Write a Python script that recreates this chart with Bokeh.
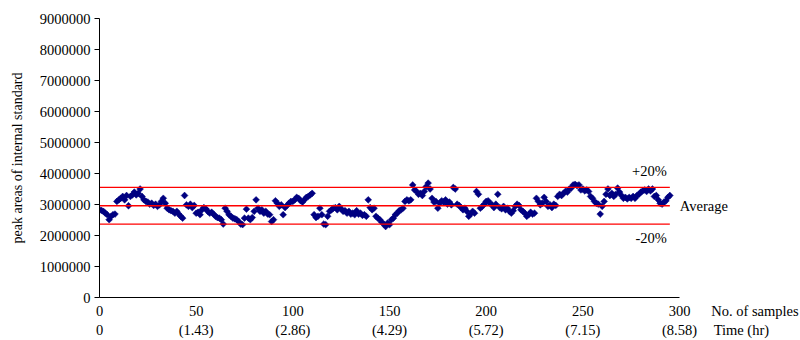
import numpy as np
from bokeh.plotting import figure
from bokeh.models import (Range1d, LinearAxis, FixedTicker, NumeralTickFormatter,
                          Label, ColumnDataSource)
from bokeh.embed import file_html
from bokeh.resources import INLINE

# ---- data ----
peak_area_millions = [
    2.83, 2.81, 2.78, 2.72, 2.67, 2.51, 2.62, 2.67, 2.69, 3.10,
    3.15, 3.20, 3.26, 3.15, 3.29, 2.96, 3.26, 3.31, 3.40, 3.31,
    3.36, 3.50, 3.26, 3.15, 3.10, 3.08, 3.01, 3.04, 2.97, 3.01,
    2.94, 2.99, 3.10, 3.20, 3.04, 2.88, 2.83, 2.80, 2.78, 2.72,
    2.78, 2.69, 2.62, 2.56, 3.29, 2.99, 2.94, 3.01, 2.90, 2.97,
    2.72, 2.75, 2.67, 2.83, 2.90, 2.86, 2.78, 2.72, 2.75, 2.69,
    2.62, 2.58, 2.56, 2.51, 2.37, 2.88, 2.78, 2.67, 2.62, 2.56,
    2.54, 2.51, 2.45, 2.37, 2.35, 2.56, 2.85, 2.56, 2.51, 2.58,
    2.78, 3.15, 2.88, 2.78, 2.83, 2.72, 2.78, 2.69, 2.67, 2.45,
    2.51, 3.12, 3.04, 2.94, 2.99, 2.67, 2.90, 2.97, 3.04, 3.10,
    3.10, 3.15, 3.23, 3.20, 3.12, 3.08, 3.15, 3.23, 3.26, 3.31,
    3.36, 2.67, 2.58, 2.62, 2.88, 2.67, 2.37, 2.35, 2.62, 2.78,
    2.83, 2.88, 2.90, 2.83, 2.94, 2.86, 2.78, 2.80, 2.72, 2.78,
    2.69, 2.72, 2.67, 2.80, 2.69, 2.72, 2.65, 2.67, 2.62, 3.15,
    2.90, 2.83, 2.88, 2.62, 2.56, 2.51, 2.43, 2.37, 2.29, 2.40,
    2.35, 2.51, 2.56, 2.67, 2.72, 2.80, 2.83, 2.88, 3.10, 3.15,
    3.12, 3.15, 3.63, 3.47, 3.42, 3.33, 3.36, 3.29, 3.42, 3.58,
    3.69, 3.50, 3.20, 3.08, 3.10, 2.88, 3.04, 3.12, 3.08, 3.15,
    3.01, 3.08, 2.99, 3.55, 3.50, 3.01, 2.97, 2.90, 2.83, 2.88,
    2.78, 2.62, 2.69, 2.78, 2.72, 3.42, 3.33, 2.88, 2.94, 3.01,
    3.10, 3.12, 3.04, 2.99, 2.90, 3.01, 3.33, 2.90, 2.86, 2.94,
    2.83, 2.88, 2.78, 2.72, 2.80, 2.94, 3.01, 2.97, 2.83, 2.78,
    2.72, 2.62, 2.67, 2.75, 2.69, 2.72, 3.20, 3.10, 2.99, 3.04,
    3.23, 3.10, 2.94, 2.99, 2.90, 3.01, 2.97, 3.26, 3.33, 3.29,
    3.36, 3.42, 3.40, 3.50, 3.53, 3.63, 3.65, 3.61, 3.63, 3.47,
    3.50, 3.44, 3.47, 3.42, 3.26, 3.20, 3.10, 3.04, 3.01, 2.69,
    2.94, 3.10, 3.33, 3.50, 3.29, 3.36, 3.26, 3.33, 3.53, 3.40,
    3.29, 3.20, 3.23, 3.18, 3.23, 3.20, 3.26, 3.20, 3.29, 3.33,
    3.40, 3.44, 3.47, 3.42, 3.50, 3.44, 3.50, 3.26, 3.29, 3.15,
    3.04, 3.01, 3.08, 3.12, 3.23, 3.29,
]
samples = list(range(len(peak_area_millions)))
peak_area = [v * 1e6 for v in peak_area_millions]

average = 2.96e6
upper_limit = average * 1.2
lower_limit = average * 0.8

y_ticks = [0, 1000000, 2000000, 3000000, 4000000, 5000000,
           6000000, 7000000, 8000000, 9000000]
x_ticks = [0, 50, 100, 150, 200, 250, 300]
time_labels = ["0", "(1.43)", "(2.86)", "(4.29)", "(5.72)", "(7.15)", "(8.58)"]
x_axis_title = "No. of samples"
time_axis_title = "Time (hr)"

# ---- layout constants ----
FONT = "Liberation Serif"
FS = "14.5px"
FRAME_LEFT, FRAME_TOP, AXIS_PX = 99, 18, 580      # 0..300 spans 580 px
X_VIEW_END = 300 * (800 - FRAME_LEFT) / AXIS_PX   # frame runs to the right edge
SAMPLES_TITLE_POS = 339                           # centre of "No. of samples"
TIME_TITLE_POS = 332                              # centre of "Time (hr)"

p = figure(width=800, height=340,
           x_range=Range1d(0, X_VIEW_END), y_range=Range1d(0, 9000000),
           output_backend="svg", toolbar_location=None,
           x_axis_type=None, y_axis_type=None,
           min_border_left=FRAME_LEFT, min_border_right=0,
           min_border_top=FRAME_TOP, min_border_bottom=42)
p.outline_line_color = None
p.background_fill_color = "white"
p.border_fill_color = "white"
for g in p.grid:
    g.visible = False

yaxis = LinearAxis(ticker=FixedTicker(ticks=y_ticks),
                   formatter=NumeralTickFormatter(format="0"))
yaxis.major_tick_out = 5
yaxis.major_tick_in = 0
yaxis.minor_tick_line_color = None
yaxis.major_label_standoff = 4
yaxis.major_label_text_font = FONT
yaxis.major_label_text_font_size = FS
yaxis.major_label_text_color = "black"
yaxis.axis_line_color = "black"
yaxis.major_tick_line_color = "black"
yaxis.axis_label = "peak areas of internal standard"
yaxis.axis_label_text_font = FONT
yaxis.axis_label_text_font_size = "14px"
yaxis.axis_label_text_font_style = "normal"
yaxis.axis_label_text_color = "black"
yaxis.axis_label_standoff = 12
p.add_layout(yaxis, "left")

# the x axis line itself, limited to 0..300
xline = LinearAxis(ticker=FixedTicker(ticks=[]), bounds=(x_ticks[0], x_ticks[-1]))
xline.major_tick_out = 0
xline.major_tick_in = 0
xline.minor_tick_line_color = None
xline.major_label_standoff = 0
xline.axis_line_color = "black"
p.add_layout(xline, "below")

def label_axis(ticks, overrides, standoff):
    ax = LinearAxis(ticker=FixedTicker(ticks=ticks),
                    major_label_overrides=overrides)
    ax.major_tick_out = 0
    ax.major_tick_in = 0
    ax.minor_tick_line_color = None
    ax.major_tick_line_color = None
    ax.axis_line_color = None
    ax.major_label_standoff = standoff
    ax.major_label_text_font = FONT
    ax.major_label_text_font_size = FS
    ax.major_label_text_color = "black"
    p.add_layout(ax, "below")
    return ax

samples_over = {t: str(t) for t in x_ticks}
samples_over[SAMPLES_TITLE_POS] = x_axis_title
label_axis(x_ticks + [SAMPLES_TITLE_POS], samples_over, 5)

time_over = {t: s for t, s in zip(x_ticks, time_labels)}
time_over[TIME_TITLE_POS] = time_axis_title
label_axis(x_ticks + [TIME_TITLE_POS], time_over, 0)

src = ColumnDataSource(dict(x=samples, y=peak_area))
p.scatter("x", "y", source=src, marker="square", angle=np.pi / 4, size=4.8,
          fill_color="#000080", line_color="#000080", line_width=0.5)

x_end = [samples[0], samples[-1]]
for lvl in (upper_limit, average, lower_limit):
    p.line(x_end, [lvl, lvl], line_color="#ff0000", line_width=1.4)

def lab(text, x, y, xo, yo, align="left"):
    p.add_layout(Label(x=x, y=y, x_offset=xo, y_offset=yo, text=text,
                       text_align=align, text_baseline="middle",
                       text_font=FONT, text_font_size=FS, text_color="black"))

lab("+20%", samples[-1], upper_limit, -3, 16, align="right")
lab("Average", samples[-1], average, 10, 0)
lab("-20%", samples[-1], lower_limit, -3, -14, align="right")

open("out.html", "w").write(file_html(p, INLINE))
